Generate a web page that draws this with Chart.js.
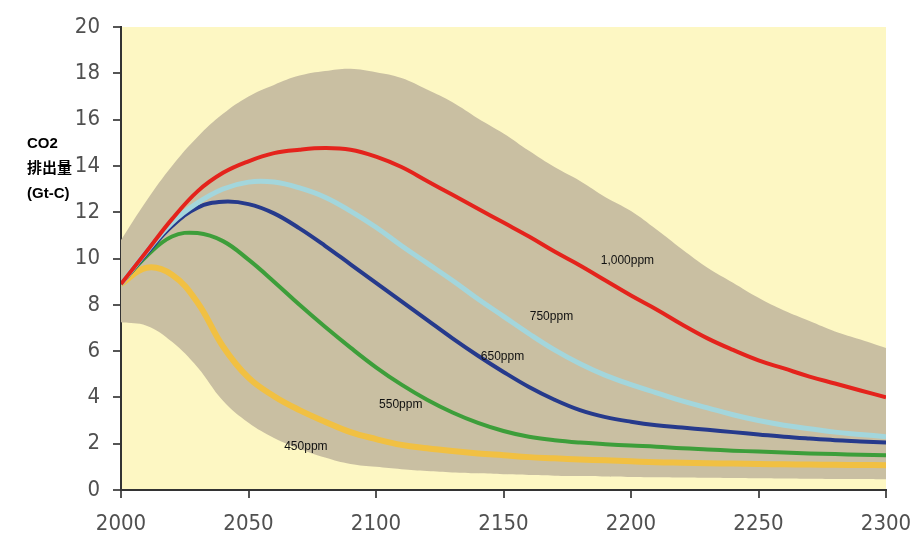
<!DOCTYPE html>
<html>
<head>
<meta charset="utf-8">
<script src="https://cdn.jsdelivr.net/npm/chart.js"></script>
<style>
    html, body {
        margin: 0;
        padding: 0;
        background: #ffffff;
    }
    #wrap {
        width: 912px;
        height: 536px;
        position: relative;
    }
</style>
</head>
<body>
<div id="wrap"><canvas id="co2Chart"></canvas></div>
<script>
    // years every 10 from 2000 to 2300
    const years = [2000, 2010, 2020, 2030, 2040, 2050, 2060, 2070, 2080, 2090,
                   2100, 2110, 2120, 2130, 2140, 2150, 2160, 2170, 2180, 2190,
                   2200, 2210, 2220, 2230, 2240, 2250, 2260, 2270, 2280, 2290, 2300];

    const ppm1000 = [8.9, 10.3, 11.7, 12.9, 13.7, 14.2, 14.55, 14.7, 14.77, 14.7,
                     14.4, 13.95, 13.35, 12.75, 12.15, 11.55, 10.95, 10.3, 9.7, 9.05,
                     8.4, 7.8, 7.15, 6.55, 6.05, 5.6, 5.25, 4.9, 4.6, 4.3, 4.0];
    const ppm750  = [8.9, 10.3, 11.55, 12.4, 13.0, 13.3, 13.3, 13.05, 12.65, 12.05,
                     11.35, 10.55, 9.8, 9.05, 8.25, 7.5, 6.75, 6.05, 5.45, 4.95,
                     4.55, 4.2, 3.85, 3.55, 3.25, 3.0, 2.8, 2.65, 2.5, 2.4, 2.3];
    const ppm650  = [8.9, 10.2, 11.4, 12.2, 12.45, 12.35, 11.95, 11.3, 10.55, 9.75,
                     8.95, 8.15, 7.35, 6.55, 5.8, 5.1, 4.45, 3.9, 3.45, 3.15,
                     2.95, 2.8, 2.7, 2.6, 2.5, 2.4, 2.3, 2.22, 2.15, 2.1, 2.05];
    const ppm550  = [8.9, 10.1, 10.95, 11.1, 10.75, 9.95, 9.0, 8.0, 7.05, 6.15,
                     5.3, 4.55, 3.9, 3.35, 2.9, 2.55, 2.3, 2.15, 2.05, 1.98,
                     1.92, 1.87, 1.8, 1.75, 1.7, 1.66, 1.62, 1.58, 1.55, 1.52, 1.5];
    const ppm450  = [8.9, 9.6, 9.3, 8.1, 6.2, 4.85, 4.05, 3.45, 2.95, 2.5,
                     2.2, 1.95, 1.8, 1.68, 1.58, 1.5, 1.42, 1.37, 1.32, 1.28,
                     1.24, 1.2, 1.18, 1.16, 1.14, 1.12, 1.11, 1.1, 1.09, 1.08, 1.07];

    // grey uncertainty band
    const bandUpper = [10.8, 12.5, 14.0, 15.25, 16.25, 17.0, 17.5, 17.9, 18.1, 18.2,
                       18.05, 17.8, 17.3, 16.75, 16.05, 15.4, 14.65, 13.95, 13.35, 12.65,
                       12.05, 11.25, 10.4, 9.6, 8.95, 8.3, 7.75, 7.3, 6.85, 6.5, 6.13];
    const bandLower = [7.25, 7.1, 6.4, 5.3, 3.85, 2.9, 2.25, 1.78, 1.4, 1.12,
                       1.0, 0.9, 0.82, 0.76, 0.72, 0.68, 0.65, 0.62, 0.6, 0.58,
                       0.56, 0.55, 0.54, 0.53, 0.52, 0.51, 0.5, 0.49, 0.48, 0.47, 0.46];

    const yTicks = [0, 2, 4, 6, 8, 10, 12, 14, 16, 18, 20];
    const xTicks = [2000, 2050, 2100, 2150, 2200, 2250, 2300];

    // curve labels: text, year, value
    const curveLabels = [
        ['1,000ppm', 2198.6, 9.9],
        ['750ppm', 2168.8, 7.47],
        ['650ppm', 2149.6, 5.75],
        ['550ppm', 2109.7, 3.67],
        ['450ppm', 2072.5, 1.86]
    ];

    const yTitle = ['CO2', '排出量', '(Gt-C)'];

    function pts(values) {
        return years.map((yr, i) => ({ x: yr, y: values[i] }));
    }

    function line(label, values, color, width) {
        return {
            label: label,
            data: pts(values),
            borderColor: color,
            borderWidth: width,
            pointRadius: 0,
            fill: false,
            tension: 0.4,
            order: 1
        };
    }

    const tickFont = {
        family: "'Liberation Sans Narrow', 'DejaVu Sans', sans-serif",
        weight: 'condensed',
        size: 22
    };

    const backdrop = {
        id: 'backdrop',
        beforeDraw(chart) {
            const a = chart.chartArea;
            const c = chart.ctx;
            c.save();
            c.fillStyle = '#fdf7c3';
            c.fillRect(a.left, a.top, a.right - a.left, a.bottom - a.top);
            c.restore();
        }
    };

    const texts = {
        id: 'texts',
        afterDatasetsDraw(chart) {
            const c = chart.ctx;
            const xs = chart.scales.x, ys = chart.scales.y;
            c.save();
            c.fillStyle = '#111';
            c.font = "12px 'Liberation Sans', Arial, sans-serif";
            c.textAlign = 'center';
            c.textBaseline = 'middle';
            curveLabels.forEach(l => {
                c.fillText(l[0], xs.getPixelForValue(l[1]), ys.getPixelForValue(l[2]));
            });
            c.font = "bold 15px 'Liberation Sans', 'Noto Sans CJK JP', sans-serif";
            c.fillStyle = '#000';
            c.textAlign = 'left';
            yTitle.forEach((t, i) => {
                c.fillText(t, 27, 144 + i * 25);
            });
            c.restore();
        }
    };

    const ctx = document.getElementById('co2Chart').getContext('2d');
    new Chart(ctx, {
        type: 'line',
        data: {
            datasets: [
                line('1,000ppm', ppm1000, '#e4231c', 4),
                line('750ppm', ppm750, '#a3d6dc', 5),
                line('650ppm', ppm650, '#263a8c', 4),
                line('550ppm', ppm550, '#3d9e3a', 4),
                line('450ppm', ppm450, '#f1c042', 6),
                {
                    label: 'upper',
                    data: pts(bandUpper),
                    borderWidth: 0,
                    borderColor: 'rgba(0,0,0,0)',
                    backgroundColor: '#c9bfa2',
                    pointRadius: 0,
                    fill: '+1',
                    tension: 0.4,
                    order: 5
                },
                {
                    label: 'lower',
                    data: pts(bandLower),
                    borderWidth: 0,
                    borderColor: 'rgba(0,0,0,0)',
                    pointRadius: 0,
                    fill: false,
                    tension: 0.4,
                    order: 6
                }
            ]
        },
        options: {
            responsive: true,
            maintainAspectRatio: false,
            animation: false,
            layout: { padding: { left: 0, right: 26, top: 27, bottom: 0 } },
            plugins: {
                legend: { display: false },
                tooltip: { enabled: false }
            },
            scales: {
                x: {
                    type: 'linear',
                    min: 2000,
                    max: 2300,
                    afterBuildTicks: s => { s.ticks = xTicks.map(v => ({ value: v })); },
                    afterFit: s => { s.height = 46; s.paddingLeft = 0; s.paddingRight = 0; },
                    grid: { drawOnChartArea: false, tickLength: 8, color: '#555', lineWidth: 2 },
                    border: { display: true, color: '#333', width: 2 },
                    ticks: {
                        font: tickFont, color: '#505050', padding: 13, maxRotation: 0,
                        callback: v => String(v)
                    }
                },
                y: {
                    min: 0,
                    max: 20,
                    afterBuildTicks: s => { s.ticks = yTicks.map(v => ({ value: v })); },
                    afterFit: s => { s.width = 121; s.paddingTop = 0; s.paddingBottom = 0; },
                    grid: { drawOnChartArea: false, tickLength: 8, color: '#555', lineWidth: 2 },
                    border: { display: true, color: '#333', width: 2 },
                    ticks: { font: tickFont, color: '#505050', padding: 13 }
                }
            }
        },
        plugins: [backdrop, texts]
    });
</script>
</body>
</html>
